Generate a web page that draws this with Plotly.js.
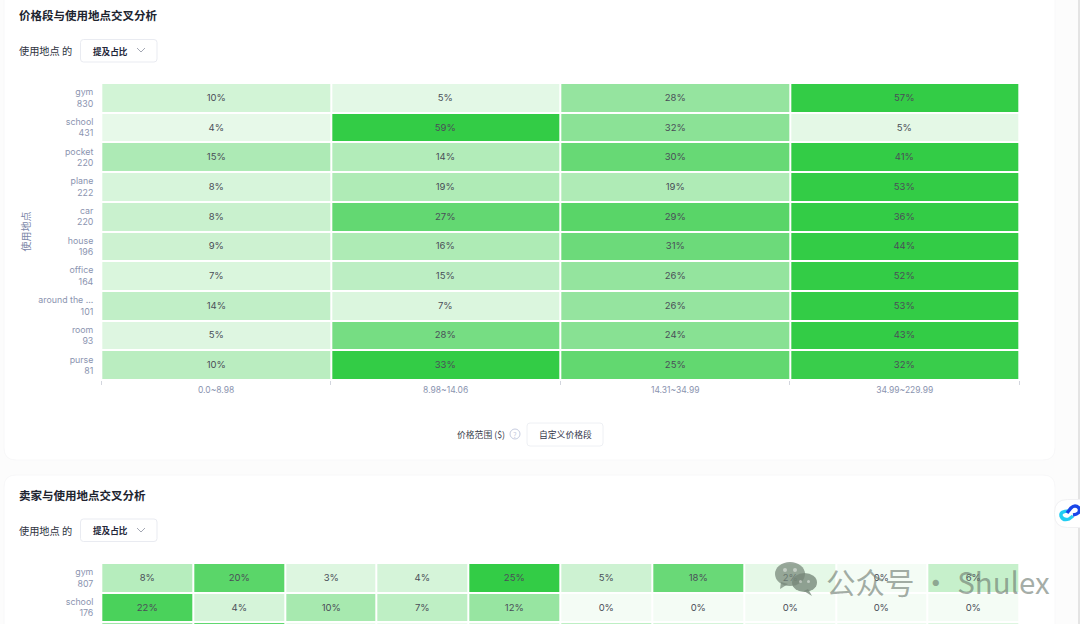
<!DOCTYPE html>
<html><head><meta charset="utf-8">
<script src="https://cdn.plot.ly/plotly-3.0.1.min.js"></script>
<style>html,body{margin:0;padding:0;width:1080px;height:624px;overflow:hidden;background:#fcfcfc}</style>
</head><body><div id="chart"></div>
<script>
// ---- data: price band x usage location
const priceBands = ['0.0~8.98','8.98~14.06','14.31~34.99','34.99~229.99'];
const placeNames = ['gym','school','pocket','plane','car','house','office','around the ...','room','purse'];
const placeCounts = [830,431,220,222,220,196,164,101,93,81];
const gym = [10,5,28,57];
const school = [4,59,32,5];
const pocket = [15,14,30,41];
const plane = [8,19,19,53];
const car = [8,27,29,36];
const house = [9,16,31,44];
const office = [7,15,26,52];
const around = [14,7,26,53];
const room = [5,28,24,43];
const purse = [10,33,25,32];
const priceShares = [gym,school,pocket,plane,car,house,office,around,room,purse];

// ---- data: seller x usage location (third row is only a sliver of colour at the window's edge)
const sellers = ['卖家1','卖家2','卖家3','卖家4','卖家5','卖家6','卖家7','卖家8','卖家9','卖家10'];
const sellerPlaces = ['gym','school','pocket'];
const sellerPlaceLabels = ['gym<br>807','school<br>176'];
const sellerGym = [8,20,3,4,25,5,18,2,0,6];
const sellerSchool = [22,4,10,7,12,0,0,0,0,0];
const sellerPocket = [11,19,1,1,3,7,4,1,1,3];
const sellerShares = [sellerGym,sellerSchool,sellerPocket];
const sellerShownRows = [sellerGym,sellerSchool];

// ---- geometry helpers
const W = 1080, H = 660;
const px = x => x / W, py = y => 1 - y / H;
const rr = (x0,y0,x1,y1,r) => 'M'+px(x0+r)+','+py(y0)+' L'+px(x1-r)+','+py(y0)+
  ' Q'+px(x1)+','+py(y0)+' '+px(x1)+','+py(y0+r)+' L'+px(x1)+','+py(y1-r)+
  ' Q'+px(x1)+','+py(y1)+' '+px(x1-r)+','+py(y1)+' L'+px(x0+r)+','+py(y1)+
  ' Q'+px(x0)+','+py(y1)+' '+px(x0)+','+py(y1-r)+' L'+px(x0)+','+py(y0+r)+
  ' Q'+px(x0)+','+py(y0)+' '+px(x0+r)+','+py(y0)+' Z';
const box = (x0,y0,x1,y1,r,fill,line,layer) => ({type:'path',xref:'paper',yref:'paper',path:rr(x0,y0,x1,y1,r),
  fillcolor:fill,line:{color:line,width:1},layer:layer||'below'});
const ell = (x0,y0,x1,y1,fill) => ({type:'circle',xref:'paper',yref:'paper',x0:px(x0),x1:px(x1),y0:py(y0),y1:py(y1),
  fillcolor:fill,line:{width:0},layer:'above'});
const poly = (pts,fill) => ({type:'path',xref:'paper',yref:'paper',
  path:'M'+pts.map(p=>px(p[0])+','+py(p[1])).join(' L')+' Z',fillcolor:fill,line:{width:0},layer:'above'});
const curve = (d,color,w,layer) => ({type:'path',xref:'paper',yref:'paper',path:d,line:{color:color,width:w},layer:layer||'above'});

const SANS = 'Inter, "Noto Sans CJK SC", sans-serif';
const CJK = '"Noto Sans CJK SC", Inter, sans-serif';
const note = (text,x,y,size,color,anchor) => ({text:text,xref:'paper',yref:'paper',x:px(anchor?x:x-2),y:py(y),
  showarrow:false,xanchor:anchor||'left',yanchor:'middle',font:{family:CJK,size:size,color:color}});

const byRow = rows => rows.map(r => { const m = Math.max.apply(null,r); return r.map(v => v/m); });
const byTable = rows => { const m = Math.max.apply(null,rows.map(r => Math.max.apply(null,r))); return rows.map(r => r.map(v => v/m)); };
const pct = rows => rows.map(r => r.map(v => v+'%'));
const scale = [[0,'#f4fcf5'],[1,'#33cc46']];
const cellFont = {family:SANS,size:9.5,color:'#4a4e58'};
const cell = (x,y,z,text,xa,ya) => ({type:'heatmap',x:x,y:y,z:z,text:text,texttemplate:'%{text}',
  textfont:cellFont,zmin:0,zmax:1,colorscale:scale,showscale:false,xgap:2,ygap:2,hoverinfo:'skip',xaxis:xa,yaxis:ya});

const placeLabels = placeNames.map((n,i) => n+'<br>'+placeCounts[i]);
const tickFont = {family:SANS,size:8.8,color:'#8b94b0'};
const rowH = 29.68;

const traces = [
  cell(priceBands,placeLabels,byRow(priceShares),pct(priceShares),'x','y'),
  cell(sellers,sellerPlaces,byTable(sellerShares),pct(sellerShownRows).concat([sellerPocket.map(() => '')]),'x2','y2')
];

const shapes = [
  box(4,-20,1055,460,12,'#ffffff','#f8f8f9'),
  box(4,475,1055,700,12,'#ffffff','#f8f8f9'),
  {type:'rect',xref:'paper',yref:'paper',x0:px(1078),x1:px(1080),y0:py(0),y1:py(660),fillcolor:'#e4e4e4',line:{width:0},layer:'below'},
  // dropdowns
  box(80.5,39.5,157,62,3,'#ffffff','#e9ebf1'),
  box(80.5,519,157,541.5,3,'#ffffff','#e9ebf1'),
  curve('M'+px(137)+','+py(48)+' L'+px(141)+','+py(52)+' L'+px(145)+','+py(48),'#8b90a0',0.8),
  curve('M'+px(137)+','+py(528)+' L'+px(141)+','+py(532)+' L'+px(145)+','+py(528),'#8b90a0',0.8),
  // custom price button
  box(527,423,603,446,3,'#ffffff','#eef0f4'),
  {type:'circle',xref:'paper',yref:'paper',x0:px(510),x1:px(520),y0:py(429),y1:py(439),line:{color:'#c6cce0',width:1},fillcolor:'rgba(0,0,0,0)',layer:'below'},
  // floating link widget
  {type:'path',xref:'paper',yref:'paper',path:rr(1054.5,499.5,1100,527.5,13),fillcolor:'#ffffff',line:{color:'#f1f1f3',width:1},layer:'above'},
  curve('M'+px(1069)+','+py(511)+' Q'+px(1060)+','+py(511)+' '+px(1061)+','+py(516)+' Q'+px(1063)+','+py(521)+' '+px(1069)+','+py(519)+' L'+px(1073)+','+py(516),'#22cdf2',3.4),
  curve('M'+px(1067)+','+py(513)+' L'+px(1071)+','+py(508)+' Q'+px(1075)+','+py(504)+' '+px(1079)+','+py(508)+' Q'+px(1081)+','+py(514)+' '+px(1073)+','+py(515),'#1a46e8',3.4),
  // watermark icon
  ell(775,562,805,586,'rgba(118,135,120,0.72)'),
  poly([[781,582],[780,589],[788,584]],'rgba(118,135,120,0.72)'),
  ell(792,573,817,592,'rgba(118,135,120,0.78)'),
  poly([[808,589],[812,596],[804,591]],'rgba(118,135,120,0.78)'),
  ell(783,568,787,572,'rgba(255,255,255,0.45)'),
  ell(793,568,797,572,'rgba(255,255,255,0.45)'),
  ell(799,580,802,583,'rgba(255,255,255,0.45)'),
  ell(807,580,810,583,'rgba(255,255,255,0.45)')
];

const annotations = [
  note('<b>价格段与使用地点交叉分析</b>',19,15.5,11.5,'#20242f'),
  note('使用地点 的',19,50.5,10.2,'#30343f'),
  note('<b>提及占比</b>',93,50.5,8.6,'#23273a'),
  note('价格范围 ($)',457,434,8.8,'#3a3e4c'),
  note('?',515,434,7.5,'#c6cce0','center'),
  note('自定义价格段',565,434.5,8.8,'#33374a','center'),
  note('<b>卖家与使用地点交叉分析</b>',19,495,11.5,'#20242f'),
  note('使用地点 的',19,530,10.2,'#30343f'),
  note('<b>提及占比</b>',93,530,8.6,'#23273a'),
  note('公众号 · Shulex',826,581,29.5,'rgba(105,118,108,0.6)')
];

const layout = {
  width:W,height:H,margin:{l:0,r:0,t:0,b:0},paper_bgcolor:'#fcfcfc',plot_bgcolor:'rgba(0,0,0,0)',showlegend:false,
  xaxis:{domain:[px(101.3),px(1019.5)],type:'category',tickson:'boundaries',ticks:'outside',ticklen:4,tickwidth:1,tickcolor:'#d3d6de',
    showgrid:false,zeroline:false,showline:false,tickfont:Object.assign({},tickFont,{size:8.5}),ticklabelstandoff:3,anchor:'y',fixedrange:true},
  yaxis:{domain:[py(380),py(83)],type:'category',autorange:'reversed',ticks:'',showgrid:false,zeroline:false,showline:false,
    tickfont:tickFont,ticklabelstandoff:7,anchor:'x',fixedrange:true,
    title:{text:'使用地点',font:{family:CJK,size:10,color:'#7c87a8'},standoff:5}},
  xaxis2:{domain:[px(101.3),px(1019.5)],type:'category',ticks:'',showticklabels:false,showgrid:false,zeroline:false,showline:false,anchor:'y2',fixedrange:true},
  yaxis2:{domain:[py(563+3*rowH),py(563)],type:'category',autorange:'reversed',ticks:'',showgrid:false,zeroline:false,showline:false,
    tickmode:'array',tickvals:sellerPlaces.slice(0,2),ticktext:sellerPlaceLabels,
    tickfont:tickFont,ticklabelstandoff:7,anchor:'x2',fixedrange:true},
  shapes:shapes,annotations:annotations
};
Plotly.newPlot('chart',traces,layout,{displayModeBar:false,staticPlot:true});
</script></body></html>
